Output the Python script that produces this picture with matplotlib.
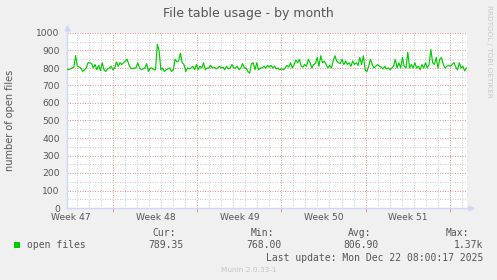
import numpy as np
import matplotlib
matplotlib.use("Agg")
import matplotlib.pyplot as plt
from matplotlib.transforms import blended_transform_factory

# ---------------- data ----------------
title = "File table usage - by month"
ylabel = "number of open files"
series_name = "open files"
week_labels = ["Week 47", "Week 48", "Week 49", "Week 50", "Week 51"]
# days since Mon Nov 17 2025 00:00 (start of week 47)
view_start_day = 3.117
view_end_day = 36.45
data_start_day = 3.117
data_end_day = 36.40
open_files = [
    795, 790, 795, 800, 805, 870, 810, 805, 800, 780, 790, 800, 830, 830, 825, 800,
    820, 790, 815, 785, 830, 790, 780, 795, 800, 810, 790, 800, 835, 810, 830, 820,
    830, 840, 850, 820, 800, 795, 800, 800, 830, 800, 790, 795, 800, 825, 780, 800,
    800, 790, 790, 935, 900, 790, 800, 780, 790, 795, 800, 780, 790, 850, 835, 840,
    885, 830, 820, 780, 800, 795, 800, 810, 790, 820, 790, 810, 800, 830, 790, 800,
    800, 815, 800, 805, 795, 800, 810, 800, 805, 790, 810, 795, 800, 820, 800, 800,
    810, 790, 800, 825, 800, 800, 780, 770, 825, 830, 790, 830, 790, 800,
    800, 810, 800, 815, 805, 815, 800, 810, 795, 800, 790, 795, 790, 800, 815, 805,
    830, 800, 820, 845, 830, 850, 810, 805, 820, 810, 850, 830, 800, 820, 825, 860,
    810, 870, 830, 840, 820, 800, 815, 800, 840, 870, 840, 830, 825, 850, 820, 840,
    820, 830, 810, 840, 820, 830, 815, 860, 820, 870, 790, 780, 810, 850, 820, 800,
    810, 820, 810, 805, 795, 810, 795, 800, 790, 800, 810, 850, 800, 830, 800, 860,
    810, 800, 890, 800, 820, 800, 830, 800, 810, 790, 820, 800, 830, 800, 820, 905,
    830, 820, 860, 800, 850, 860, 820, 800, 810, 815, 810, 820, 830, 805, 790, 830,
    800, 810, 785, 800,
]
stat_names = ["Cur:", "Min:", "Avg:", "Max:"]
stat_values = ["789.35", "768.00", "806.90", "1.37k"]
last_update = "Last update: Mon Dec 22 08:00:17 2025"
vendor = "RRDTOOL / TOBI OETIKER"
footer = "Munin 2.0.33-1"
ymax = 1000

# ---------------- layout ----------------
W, H = 497, 280
BG = "#F0F0F0"
TXT = "#555555"
AXIS = "#CFD6F8"
MINOR = "#CFCFCF"
MAJOR = "#E89A9A"
LINE = "#00CC00"

def fx(x):
    return x / W

def fy(y):
    return 1 - y / H

fig = plt.figure(figsize=(W / 100, H / 100), dpi=100, facecolor=BG)
L, R, T, B = 66.7, 467.0, 33.0, 208.0
ax = fig.add_axes([fx(L), fy(B), (R - L) / W, (B - T) / H])
ax.set_facecolor("white")
ax.set_xlim(view_start_day, view_end_day)
ax.set_ylim(0, ymax)

# grid
dot = (0, (1.0, 1.4))
first_day = int(np.ceil(view_start_day))
for d in range(first_day, int(view_end_day) + 1):
    is_week = (d % 7 == 0)
    ax.axvline(d, color=MAJOR if is_week else MINOR, lw=0.75, ls=dot, zorder=1)
for v in range(50, ymax + 1, 50):
    ax.axhline(v, color=MAJOR if v % 100 == 0 else MINOR, lw=0.75, ls=dot, zorder=1)

# data line
t = np.linspace(data_start_day, data_end_day, len(open_files))
ax.plot(t, open_files, color=LINE, lw=0.85, zorder=3)

# axes styling
for s in ["top", "right"]:
    ax.spines[s].set_visible(False)
for s in ["left", "bottom"]:
    ax.spines[s].set_color(AXIS)
    ax.spines[s].set_linewidth(1.0)
ax.set_yticks(range(0, ymax + 1, 100))
ax.tick_params(axis="y", length=0, labelsize=6.6, labelcolor=TXT, pad=5)
ax.set_xticks([d for d in range(first_day, int(view_end_day) + 1) if d % 7 == 0])
ax.set_xticklabels([])
ax.tick_params(axis="x", length=3, color=MAJOR, width=0.8)
trans = blended_transform_factory(ax.transData, ax.transAxes)
for i, lab in enumerate(week_labels):
    ax.text(3.5 + 7 * i, -0.03, lab, transform=trans, ha="center", va="top",
            fontsize=6.6, color=TXT, clip_on=False)

# axis arrows
ax.plot([0, 0], [1.0, 1.03], transform=ax.transAxes, color=AXIS, lw=1.0, clip_on=False)
ax.plot([0], [1.03], transform=ax.transAxes, marker="^", ms=3.5, color=AXIS,
        clip_on=False, mec=AXIS)
ax.plot([1.0, 1.01], [0, 0], transform=ax.transAxes, color=AXIS, lw=1.0, clip_on=False)
ax.plot([1.01], [0], transform=ax.transAxes, marker=">", ms=3.5, color=AXIS,
        clip_on=False, mec=AXIS)

# texts
fig.text(fx(248.5), fy(13.3), title, ha="center", va="center", fontsize=9, color=TXT)
fig.text(fx(10.5), fy(120.5), ylabel, ha="center", va="center", rotation=90,
         fontsize=7, color=TXT)
fig.text(fx(488.5), fy(5), vendor, ha="center", va="top", rotation=270,
         fontsize=5.2, color="#C8C8C8")

mono = "DejaVu Sans Mono"
fig.patches.append(plt.Rectangle((fx(14), fy(248)), 6 / W, 6 / H, transform=fig.transFigure,
                                 facecolor=LINE, edgecolor="none"))
fig.text(fx(27), fy(245), series_name, ha="left", va="center", family=mono,
         fontsize=7, color=TXT)
head_x = [176, 274, 371, 469]
val_x = [184, 282, 379, 483]
for hx, vx, n, v in zip(head_x, val_x, stat_names, stat_values):
    fig.text(fx(hx), fy(233.5), n, ha="right", va="center", family=mono, fontsize=7, color=TXT)
    fig.text(fx(vx), fy(245.5), v, ha="right", va="center", family=mono, fontsize=7, color=TXT)
fig.text(fx(483), fy(258), last_update, ha="right", va="center", family=mono,
         fontsize=7, color=TXT)
fig.text(fx(248.5), fy(269.5), footer, ha="center", va="center", fontsize=5.3, color="#C4C4C4")

fig.savefig("out.png", dpi=100, facecolor=BG)
